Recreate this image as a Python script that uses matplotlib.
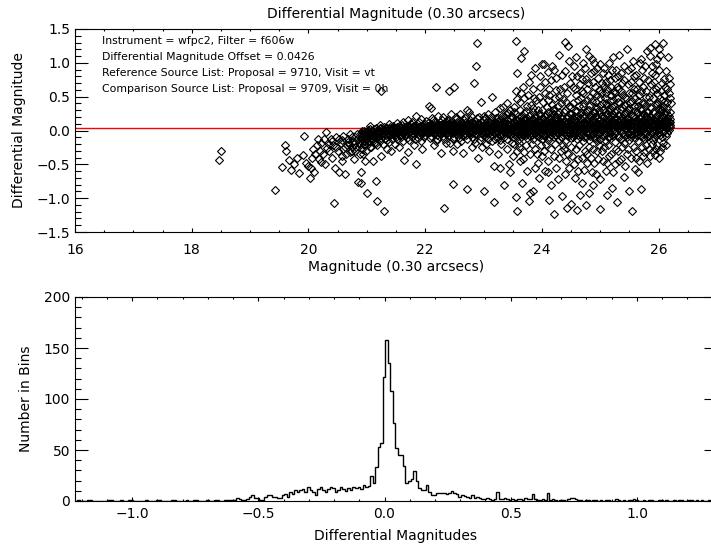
import numpy as np
import matplotlib
matplotlib.use("Agg")
import matplotlib.pyplot as plt
from matplotlib.ticker import MultipleLocator, FuncFormatter

# ---------------- data ----------------
offset_value = 0.0426
info_lines = [
    "Instrument = wfpc2, Filter = f606w",
    "Differential Magnitude Offset = 0.0426",
    "Reference Source List: Proposal = 9710, Visit = vt",
    "Comparison Source List: Proposal = 9709, Visit = 0h",
]

# bright, sparse group (magnitude, differential magnitude)
left_points = [
    (18.50, -0.30), (18.47, -0.44), (19.42, -0.88), (20.44, -1.07),
    (19.60, -0.22), (19.62, -0.30), (19.66, -0.44), (19.55, -0.54), (19.70, -0.58),
    (19.75, -0.50), (19.80, -0.40), (19.84, -0.63), (19.90, -0.36), (19.93, -0.08),
    (19.95, -0.48), (20.00, -0.52), (20.02, -0.70), (20.05, -0.55), (20.08, -0.28),
    (20.10, -0.62), (20.12, -0.35), (20.15, -0.22), (20.18, -0.42), (20.20, -0.30),
    (20.22, -0.18), (20.25, -0.35), (20.28, -0.50), (20.30, -0.02), (20.32, -0.26),
    (20.35, -0.30), (20.38, -0.12), (20.40, -0.40), (20.42, -0.22), (20.45, -0.55),
    (20.47, -0.10), (20.50, -0.30), (20.52, -0.62), (20.55, -0.18), (20.57, -0.45),
    (20.60, -0.08), (20.62, -0.65), (20.63, -0.25), (20.65, -0.35), (20.67, -0.12),
    (20.70, -0.20), (20.72, -0.05), (20.74, -0.30), (20.76, -0.15), (20.78, -0.42),
    (20.80, -0.10), (20.82, -0.25), (20.85, -0.76), (20.86, -0.18), (20.88, -0.35),
    (20.92, -0.08), (20.95, -0.22), (20.97, -0.45), (20.98, -0.12),
    (20.58, -0.14), (20.68, -0.17), (20.78, -0.20), (20.84, -0.13), (20.74, -0.09),
    (20.35, -0.20), (20.40, -0.15), (20.48, -0.25), (20.53, -0.12), (20.60, -0.28),
    (20.66, -0.22), (20.71, -0.32), (20.75, -0.24), (20.80, -0.30), (20.83, -0.05),
    (20.88, -0.22), (20.91, -0.28), (20.94, -0.35), (20.96, -0.15), (20.99, -0.30),
    (20.26, -0.12), (20.16, -0.12), (20.06, -0.40), (20.22, -0.46), (20.58, -0.38),
    (21.24, 0.59),
]

# dense band along the offset line: magnitude column -> differential magnitudes
band_a = [
    (20.90, [-0.03, -0.10, -0.16]), (20.95, [0.00, -0.07, -0.20]),
    (21.00, [-0.02, -0.12, -0.05]), (21.05, [0.02, -0.08, -0.15, -0.25]),
    (21.10, [-0.01, -0.06, -0.13]), (21.15, [0.03, -0.04, -0.18]),
    (21.20, [0.00, -0.09, -0.03]), (21.25, [0.04, -0.02, -0.11]),
    (21.30, [0.01, -0.05, 0.05]), (21.35, [0.03, -0.03, -0.14]),
    (21.40, [0.05, 0.00, -0.07]), (21.45, [0.02, -0.04, 0.06]),
    (21.50, [0.04, -0.01, -0.09]), (21.55, [0.06, 0.01, -0.05]),
    (21.60, [0.03, -0.02, 0.08]), (21.65, [0.05, 0.00, -0.06]),
    (21.70, [0.02, 0.07, -0.03]), (21.75, [0.04, -0.01, 0.09]),
    (21.80, [0.06, 0.01, -0.05]), (21.85, [0.03, -0.02, 0.08]),
    (21.90, [0.05, 0.00, -0.07]), (21.95, [0.02, 0.07, -0.03]),
    (20.925, [-0.05, -0.13, -0.01]), (20.975, [-0.08, -0.02, -0.15]),
    (21.025, [-0.04, -0.10, 0.01]), (21.075, [-0.06, -0.01, -0.11]),
    (21.125, [-0.03, -0.08, 0.02]), (21.175, [-0.05, 0.00, -0.10]),
    (21.225, [-0.02, -0.07, 0.03]), (21.275, [-0.04, 0.01, -0.08]),
    (21.325, [-0.01, -0.06, 0.03]), (21.375, [-0.03, 0.02, -0.07]),
    (21.425, [0.00, -0.05, 0.04]), (21.475, [-0.02, 0.03, -0.06]),
    (21.525, [0.01, -0.04, 0.05]), (21.575, [-0.01, 0.03, -0.06]),
    (21.625, [0.02, -0.03, 0.05]), (21.675, [0.00, 0.04, -0.05]),
    (21.725, [0.03, -0.02, 0.06]), (21.775, [0.01, 0.05, -0.04]),
    (21.825, [0.03, -0.01, 0.06]), (21.875, [0.02, 0.05, -0.03]),
    (21.925, [0.04, 0.00, 0.07]), (21.975, [0.02, 0.05, -0.02]),
    (21.02, [-0.20]), (21.08, [-0.24]), (21.12, [-0.18]), (21.18, [-0.22]), (21.22, [-0.15]),
    (21.28, [-0.20]), (21.32, [-0.12]), (21.38, [-0.17]), (21.44, [-0.12]), (21.48, [-0.20]),
    (21.52, [-0.13]), (21.58, [-0.10]), (21.62, [-0.16]), (21.68, [-0.11]), (21.72, [-0.14]),
    (21.78, [-0.10]), (21.82, [-0.13]), (21.88, [-0.11]), (21.92, [-0.15]), (21.98, [-0.10]),
    (21.05, [0.06]), (21.22, [0.08]), (21.38, [0.09]), (21.52, [0.11]), (21.62, [0.12]),
    (21.78, [0.13]), (21.90, [0.12]),
]
band_b = [
    (22.00, [0.04, -0.01, 0.09, -0.06]), (22.05, [0.02, 0.07, -0.04, 0.11]),
    (22.10, [0.05, 0.00, -0.08, 0.10]), (22.15, [0.03, 0.08, -0.03, 0.12]),
    (22.20, [0.06, 0.01, -0.06, 0.10]), (22.25, [0.02, 0.08, -0.04, 0.13]),
    (22.30, [0.05, -0.01, 0.10, -0.08]), (22.35, [0.03, 0.09, -0.05, 0.12]),
    (22.40, [0.06, 0.00, -0.07, 0.11]), (22.45, [0.01, 0.07, -0.04, 0.13]),
    (22.50, [0.04, -0.02, 0.10, -0.09]), (22.55, [0.07, 0.02, -0.05, 0.12]),
    (22.60, [0.03, 0.09, -0.03, 0.14]), (22.65, [0.05, -0.01, 0.11, -0.08]),
    (22.70, [0.02, 0.08, -0.06, 0.13]), (22.75, [0.06, 0.00, 0.10, -0.04]),
    (22.80, [0.04, -0.03, 0.12, -0.09]), (22.85, [0.07, 0.01, -0.05, 0.14]),
    (22.90, [0.03, 0.09, -0.02, 0.11]), (22.95, [0.05, -0.04, 0.13, -0.10]),
    (23.00, [0.02, 0.08, -0.06, 0.15]), (23.05, [0.06, 0.00, 0.11, -0.08]),
    (23.10, [0.04, -0.03, 0.13, 0.08]), (23.15, [0.07, 0.01, -0.07, 0.16]),
    (23.20, [0.03, 0.10, -0.04, 0.12]), (23.25, [0.05, -0.02, 0.14, -0.10]),
    (23.30, [0.02, 0.09, -0.06, 0.17]), (23.35, [0.06, 0.00, 0.12, -0.09]),
    (23.40, [0.04, -0.04, 0.15, 0.09]), (23.45, [0.08, 0.01, -0.07, 0.18]),
    (22.025, [0.03, 0.00, 0.06, -0.03]), (22.075, [0.05, 0.01, 0.08, -0.02]),
    (22.125, [0.02, 0.06, -0.01, 0.04]), (22.175, [0.04, 0.00, 0.07, -0.04]),
    (22.225, [0.03, 0.06, -0.02, 0.01]), (22.275, [0.05, 0.01, 0.08, -0.03]),
    (22.325, [0.02, 0.05, -0.01, 0.07]), (22.375, [0.04, 0.00, 0.06, -0.04]),
    (22.425, [0.03, 0.07, -0.02, 0.01]), (22.475, [0.05, 0.02, 0.08, -0.03]),
    (22.525, [0.02, 0.06, -0.01, 0.04]), (22.575, [0.04, 0.00, 0.07, -0.05]),
    (22.625, [0.03, 0.06, -0.02, 0.09]), (22.675, [0.05, 0.01, 0.08, -0.04]),
    (22.725, [0.02, 0.05, -0.01, 0.07]), (22.775, [0.04, 0.00, 0.06, -0.03]),
    (22.825, [0.03, 0.07, -0.02, 0.10]), (22.875, [0.05, 0.02, 0.08, -0.05]),
    (22.925, [0.02, 0.06, -0.01, 0.04]), (22.975, [0.04, 0.00, 0.07, -0.04]),
    (23.025, [0.03, 0.06, -0.02, 0.10]), (23.075, [0.05, 0.01, 0.08, -0.05]),
    (23.125, [0.02, 0.05, -0.01, 0.11]), (23.175, [0.04, 0.00, 0.07, -0.03]),
    (23.225, [0.03, 0.07, -0.02, 0.09]), (23.275, [0.05, 0.02, 0.08, -0.06]),
    (23.325, [0.02, 0.06, -0.01, 0.12]), (23.375, [0.04, 0.00, 0.07, -0.04]),
    (23.425, [0.03, 0.06, -0.03, 0.10]), (23.475, [0.05, 0.01, 0.09, -0.05]),
    (22.02, [0.14]), (22.08, [-0.11]), (22.14, [0.15]), (22.20, [-0.12]), (22.28, [0.16]),
    (22.33, [-0.13]), (22.40, [0.15]), (22.47, [-0.12]), (22.53, [0.17]), (22.58, [-0.11]),
    (22.66, [0.16]), (22.71, [-0.13]), (22.77, [0.15]), (22.83, [-0.12]), (22.88, [0.18]),
    (22.94, [-0.14]), (23.02, [0.18]), (23.07, [-0.12]), (23.13, [0.20]), (23.19, [-0.13]),
    (23.24, [0.19]), (23.29, [-0.14]), (23.36, [0.20]), (23.41, [-0.12]), (23.47, [0.22]),
]
band_c = [
    (23.50, [0.04, -0.03, 0.12, -0.10, 0.20, 0.07]), (23.55, [0.06, 0.00, 0.15, -0.08, 0.24, 0.02]),
    (23.60, [0.03, 0.10, -0.05, 0.18, -0.12, 0.07]), (23.65, [0.05, -0.02, 0.13, 0.22, -0.09, 0.09]),
    (23.70, [0.08, 0.01, -0.06, 0.16, 0.26, 0.04]), (23.75, [0.02, 0.11, -0.11, 0.19, 0.06, -0.03]),
    (23.80, [0.05, -0.04, 0.14, 0.23, -0.08, 0.09]), (23.85, [0.07, 0.00, 0.17, -0.13, 0.28, 0.03]),
    (23.90, [0.04, 0.12, -0.07, 0.20, -0.02, 0.08]), (23.95, [0.06, -0.05, 0.15, 0.25, -0.10, 0.01]),
    (24.00, [0.03, 0.09, -0.03, 0.18, 0.30, -0.12]), (24.05, [0.07, 0.01, 0.13, -0.08, 0.22, 0.05]),
    (24.10, [0.05, -0.04, 0.16, 0.27, -0.14, 0.10]), (24.15, [0.08, 0.02, -0.06, 0.20, 0.12, -0.01]),
    (24.20, [0.04, 0.11, -0.10, 0.24, 0.06, 0.32]), (24.25, [0.06, -0.02, 0.15, -0.07, 0.19, 0.09]),
    (24.30, [0.03, 0.13, -0.12, 0.28, 0.07, -0.04]), (24.35, [0.09, 0.00, 0.17, -0.09, 0.23, 0.05]),
    (24.40, [0.05, -0.05, 0.14, 0.31, -0.15, 0.10]), (24.45, [0.07, 0.02, 0.20, -0.08, 0.12, -0.02]),
    (24.50, [0.04, 0.11, -0.11, 0.25, 0.08, 0.34]), (24.55, [0.08, -0.03, 0.16, -0.06, 0.21, 0.01]),
    (24.60, [0.05, 0.13, -0.13, 0.29, 0.09, -0.01]), (24.65, [0.06, 0.00, 0.18, -0.09, 0.24, 0.11]),
    (24.70, [0.03, 0.10, -0.05, 0.22, 0.36, -0.16]), (24.75, [0.09, 0.02, 0.15, -0.10, 0.27, 0.06]),
    (24.80, [0.05, -0.04, 0.19, 0.12, -0.14, 0.31]), (24.85, [0.07, 0.01, 0.14, -0.07, 0.23, 0.09]),
    (24.90, [0.04, 0.12, -0.11, 0.28, 0.06, -0.02]), (24.95, [0.08, -0.05, 0.17, 0.33, -0.16, 0.10]),
    (23.525, [0.04, 0.00, 0.08, -0.05, 0.13]), (23.575, [0.02, 0.06, -0.02, 0.10, 0.16]),
    (23.625, [0.05, 0.01, 0.09, -0.06, 0.14]), (23.675, [0.03, 0.07, -0.03, 0.11, 0.19]),
    (23.725, [0.06, 0.00, 0.10, -0.07, 0.15]), (23.775, [0.03, 0.08, -0.02, 0.12, 0.21]),
    (23.825, [0.05, 0.01, 0.09, -0.06, 0.17]), (23.875, [0.02, 0.06, -0.04, 0.13, 0.22]),
    (23.925, [0.06, 0.00, 0.10, -0.08, 0.16]), (23.975, [0.03, 0.07, -0.02, 0.12, 0.24]),
    (24.025, [0.05, 0.01, 0.09, -0.06, 0.18]), (24.075, [0.02, 0.08, -0.04, 0.14, 0.23]),
    (24.125, [0.06, 0.00, 0.11, -0.09, 0.17]), (24.175, [0.04, 0.07, -0.02, 0.13, 0.26]),
    (24.225, [0.05, 0.01, 0.09, -0.07, 0.20]), (24.275, [0.03, 0.08, -0.04, 0.15, 0.24]),
    (24.325, [0.06, 0.00, 0.11, -0.10, 0.18]), (24.375, [0.04, 0.07, -0.03, 0.14, 0.27]),
    (24.425, [0.05, 0.01, 0.10, -0.07, 0.21]), (24.475, [0.03, 0.08, -0.05, 0.16, 0.25]),
    (24.525, [0.06, 0.00, 0.12, -0.09, 0.19]), (24.575, [0.04, 0.07, -0.03, 0.14, 0.29]),
    (24.625, [0.05, 0.02, 0.10, -0.07, 0.22]), (24.675, [0.03, 0.08, -0.05, 0.17, 0.26]),
    (24.725, [0.07, 0.00, 0.12, -0.10, 0.20]), (24.775, [0.04, 0.09, -0.03, 0.15, 0.30]),
    (24.825, [0.06, 0.02, 0.11, -0.08, 0.23]), (24.875, [0.03, 0.08, -0.05, 0.17, 0.27]),
    (24.925, [0.07, 0.00, 0.12, -0.11, 0.21]), (24.975, [0.04, 0.09, -0.03, 0.15, 0.31]),
]
band_d = [
    (25.00, [0.06, -0.03, 0.15, 0.26, -0.12, 0.38]), (25.05, [0.09, 0.02, 0.20, -0.08, 0.31, 0.12]),
    (25.10, [0.05, 0.13, -0.05, 0.24, -0.15, 0.40]), (25.15, [0.08, -0.01, 0.17, 0.29, -0.10, 0.04]),
    (25.20, [0.11, 0.03, 0.22, -0.06, 0.35, 0.14]), (25.25, [0.07, -0.04, 0.18, 0.27, -0.17, 0.10]),
    (25.30, [0.04, 0.12, -0.08, 0.23, 0.42, 0.02]), (25.35, [0.09, 0.00, 0.16, -0.12, 0.30, 0.06]),
    (25.40, [0.06, 0.14, -0.05, 0.25, 0.37, -0.18]), (25.45, [0.10, 0.02, 0.19, -0.09, 0.28, 0.13]),
    (25.50, [0.05, -0.03, 0.15, 0.33, -0.14, 0.08]), (25.55, [0.08, 0.11, -0.07, 0.22, 0.44, 0.01]),
    (25.60, [0.12, 0.04, 0.18, -0.11, 0.29, -0.02]), (25.65, [0.07, -0.05, 0.14, 0.26, -0.16, 0.36]),
    (25.70, [0.10, 0.02, 0.21, -0.08, 0.31, 0.13]), (25.75, [0.06, 0.15, -0.03, 0.24, 0.40, -0.13]),
    (25.80, [0.09, 0.01, 0.18, -0.10, 0.28, 0.05]), (25.85, [0.13, 0.04, 0.22, -0.06, 0.34, 0.16]),
    (25.90, [0.07, -0.02, 0.17, 0.27, -0.14, 0.10]), (25.95, [0.11, 0.03, 0.20, -0.08, 0.38, 0.14]),
    (26.00, [0.08, 0.16, -0.04, 0.25, 0.33, 0.02]), (26.05, [0.12, 0.05, 0.21, -0.10, 0.30, 0.18]),
    (26.10, [0.09, 0.14, 0.00, 0.26, 0.42, 0.06]), (26.15, [0.11, 0.04, 0.19, 0.32, -0.03, 0.15]),
    (26.20, [0.08, 0.17, 0.05, 0.28, 0.12]),
    (25.025, [0.07, 0.01, 0.12, -0.07, 0.22]), (25.075, [0.04, 0.10, -0.03, 0.17, 0.28]),
    (25.125, [0.08, 0.02, 0.13, -0.09, 0.24]), (25.175, [0.05, 0.11, -0.04, 0.18, 0.33]),
    (25.225, [0.09, 0.01, 0.14, -0.08, 0.25]), (25.275, [0.05, 0.11, -0.02, 0.19, 0.30]),
    (25.325, [0.08, 0.03, 0.13, -0.10, 0.23]), (25.375, [0.06, 0.12, -0.04, 0.20, 0.35]),
    (25.425, [0.09, 0.02, 0.15, -0.07, 0.26]), (25.475, [0.05, 0.11, -0.03, 0.19, 0.31]),
    (25.525, [0.08, 0.01, 0.14, -0.09, 0.24]), (25.575, [0.06, 0.12, -0.05, 0.21, 0.36]),
    (25.625, [0.10, 0.03, 0.16, -0.07, 0.27]), (25.675, [0.05, 0.11, -0.02, 0.19, 0.32]),
    (25.725, [0.08, 0.02, 0.15, -0.10, 0.25]), (25.775, [0.06, 0.13, -0.04, 0.22, 0.37]),
    (25.825, [0.10, 0.03, 0.16, -0.08, 0.28]), (25.875, [0.06, 0.12, -0.03, 0.20, 0.33]),
    (25.925, [0.09, 0.02, 0.15, -0.09, 0.26]), (25.975, [0.07, 0.13, -0.05, 0.23, 0.39]),
    (26.025, [0.10, 0.04, 0.17, -0.06, 0.29]), (26.075, [0.06, 0.12, -0.02, 0.21, 0.34]),
    (26.125, [0.09, 0.03, 0.16, -0.08, 0.27]), (26.175, [0.07, 0.13, 0.01, 0.22]),
]

# outliers above the band
upper_points = [
    (21.70, 0.16), (21.92, 0.17), (22.07, 0.36), (22.10, 0.33), (22.18, 0.65), (22.41, 0.59),
    (22.50, 0.65), (21.85, 0.22), (22.30, 0.20), (22.45, 0.24),
    (22.75, 0.28), (22.72, 0.30), (22.84, 0.70), (22.87, 0.95), (22.89, 1.29), (23.14, 0.50),
    (23.28, 0.33), (23.33, 0.35), (23.00, 0.22), (23.20, 0.28), (23.40, 0.40), (23.45, 0.30),
    (22.95, 0.42), (23.38, 0.25), (22.60, 0.25),
    (22.12, 0.18), (22.22, 0.22), (22.38, 0.16), (22.52, 0.20), (22.68, 0.18), (22.78, 0.22),
    (22.92, 0.20), (23.08, 0.24), (23.22, 0.18), (23.32, 0.22), (23.42, 0.26),
    (23.55, 1.32), (23.69, 1.17), (23.64, 1.07), (23.58, 0.85), (23.55, 0.59), (23.65, 0.55),
    (23.78, 0.72), (23.97, 0.80), (24.00, 0.99), (23.85, 0.62), (23.90, 0.45), (23.62, 0.42),
    (23.75, 0.36), (23.95, 0.50), (23.70, 0.48), (23.82, 0.38), (23.52, 0.35), (23.88, 0.92),
    (24.03, 0.99), (24.10, 0.86), (24.15, 0.75), (24.20, 0.90), (24.29, 1.12), (24.35, 0.82),
    (24.40, 1.31), (24.45, 1.25), (24.46, 1.02), (24.25, 0.60), (24.30, 0.50), (24.10, 0.45),
    (24.38, 0.65), (24.42, 0.42), (24.05, 0.55), (24.18, 0.38), (24.48, 0.70), (24.33, 0.40),
    (24.22, 0.48), (24.12, 0.62),
    (24.55, 0.95), (24.60, 0.80), (24.65, 0.68), (24.70, 1.00), (24.75, 1.21), (24.80, 1.10),
    (24.85, 1.05), (24.90, 0.88), (24.95, 0.92), (24.58, 0.52), (24.62, 0.45), (24.68, 0.58),
    (24.72, 0.40), (24.78, 0.62), (24.82, 0.50), (24.88, 0.72), (24.92, 0.42), (24.97, 0.60),
    (24.53, 0.65), (24.66, 0.85), (24.76, 0.76), (24.86, 0.44), (24.94, 0.52),
    (25.00, 0.98), (25.05, 0.85), (25.10, 0.72), (25.15, 1.00), (25.20, 0.90), (25.25, 0.78),
    (25.32, 1.12), (25.40, 0.95), (25.46, 1.20), (25.02, 0.55), (25.08, 0.48), (25.12, 0.62),
    (25.18, 0.52), (25.22, 0.45), (25.28, 0.65), (25.35, 0.58), (25.42, 0.50), (25.48, 0.68),
    (25.30, 0.80), (25.38, 0.70), (25.06, 0.66), (25.16, 0.74), (25.26, 0.56), (25.44, 0.48),
    (25.52, 0.92), (25.58, 0.80), (25.63, 0.62), (25.68, 1.00), (25.70, 1.05), (25.72, 0.90),
    (25.75, 0.78), (25.80, 1.18), (25.85, 1.22), (25.88, 0.85), (25.92, 0.72), (25.95, 0.98),
    (26.00, 1.20), (26.03, 1.12), (26.08, 1.30), (26.12, 0.88), (26.15, 0.62), (26.18, 0.78),
    (25.55, 0.55), (25.60, 0.48), (25.66, 0.52), (25.78, 0.58), (25.83, 0.50), (25.90, 0.60),
    (25.97, 0.55), (26.05, 0.70), (26.10, 0.52), (26.20, 0.48), (25.86, 1.10), (25.93, 1.28),
    (25.98, 1.05), (26.16, 1.08),
    (23.53, 0.28), (23.58, 0.46), (23.63, 0.31), (23.68, 0.65), (23.72, 0.29), (23.77, 0.52),
    (23.81, 0.82), (23.84, 0.33), (23.87, 0.48), (23.93, 0.30), (23.96, 0.64), (24.02, 0.42),
    (24.06, 0.72), (24.08, 0.34), (24.13, 0.53), (24.17, 0.95), (24.19, 0.30), (24.24, 0.77),
    (24.27, 0.36), (24.31, 0.62), (24.36, 0.46), (24.39, 0.88), (24.43, 0.55), (24.47, 0.36),
    (24.51, 0.80), (24.54, 0.40), (24.57, 0.62), (24.59, 1.08), (24.63, 0.36), (24.67, 0.48),
    (24.69, 0.76), (24.71, 0.55), (24.74, 0.92), (24.77, 0.45), (24.79, 0.70), (24.83, 0.38),
    (24.84, 0.85), (24.87, 0.56), (24.89, 1.00), (24.91, 0.65), (24.93, 0.35), (24.96, 0.78),
    (24.99, 0.48), (25.03, 0.70), (25.04, 0.40), (25.07, 0.92), (25.09, 0.55), (25.11, 0.38),
    (25.13, 0.82), (25.17, 0.44), (25.19, 0.65), (25.21, 1.08), (25.23, 0.58), (25.24, 0.36),
    (25.27, 0.90), (25.29, 0.48), (25.31, 0.62), (25.33, 0.40), (25.36, 0.85), (25.39, 0.52),
    (25.41, 0.74), (25.43, 0.38), (25.47, 0.90), (25.49, 0.55), (25.51, 0.40), (25.53, 0.72),
    (25.56, 1.02), (25.57, 0.62), (25.61, 0.82), (25.64, 0.44), (25.67, 0.72), (25.69, 0.58),
    (25.71, 0.40), (25.74, 0.65), (25.76, 0.96), (25.79, 0.50), (25.81, 0.75), (25.84, 0.42),
    (25.87, 0.68), (25.89, 0.95), (25.91, 0.48), (25.94, 0.82), (25.96, 0.62), (25.99, 0.42),
    (26.01, 0.90), (26.04, 0.58), (26.06, 0.45), (26.09, 0.76), (26.11, 0.64), (26.14, 0.42),
    (26.17, 0.56), (26.19, 0.68), (26.21, 0.40),
]

# outliers below the band
lower_points = [
    (20.90, -0.62), (20.90, -0.77), (21.01, -0.92), (21.15, -0.75), (21.18, -1.04), (21.30, -1.19),
    (21.24, -0.38), (21.41, -0.30), (21.64, -0.43), (21.84, -0.50), (21.80, -0.22), (21.10, -0.45),
    (21.35, -0.28), (21.55, -0.25), (21.70, -0.32), (21.95, -0.27),
    (22.32, -1.14), (22.47, -0.79), (22.72, -0.87), (22.27, -0.33), (22.47, -0.30), (22.64, -0.33),
    (22.90, -0.40), (22.15, -0.22), (22.55, -0.20), (22.80, -0.25), (22.35, -0.18), (22.98, -0.25),
    (22.18, -0.15), (22.42, -0.18), (22.62, -0.15), (22.85, -0.18), (23.05, -0.20), (23.15, -0.15),
    (23.30, -0.20), (23.48, -0.18),
    (23.01, -0.89), (23.18, -1.06), (23.29, -0.55), (23.43, -0.50), (23.35, -0.80), (23.55, -0.99),
    (23.58, -1.19), (23.66, -0.77), (23.78, -1.04), (23.80, -0.92), (23.85, -0.90), (23.89, -0.55),
    (23.18, -0.52), (23.63, -0.45), (23.10, -0.30), (23.25, -0.35), (23.40, -0.28), (23.50, -0.38),
    (23.70, -0.32), (23.75, -0.60), (23.92, -0.35), (23.60, -0.25), (23.95, -0.70), (23.45, -0.62),
    (24.20, -1.23), (24.35, -0.97), (24.43, -1.15), (24.57, -0.70), (24.68, -0.77), (24.80, -0.93),
    (24.50, -1.08), (24.05, -0.60), (24.10, -0.45), (24.15, -0.80), (24.25, -0.55), (24.30, -0.40),
    (24.40, -0.65), (24.45, -0.35), (24.55, -0.50), (24.62, -0.42), (24.72, -0.58), (24.78, -0.35),
    (24.85, -0.62), (24.90, -0.48), (24.95, -0.30), (24.00, -0.38), (24.65, -0.95), (24.88, -0.80),
    (24.38, -0.28), (24.12, -1.02), (24.75, -1.10), (24.60, -1.18),
    (25.00, -0.72), (25.00, -1.16), (25.29, -1.06), (25.54, -1.19), (25.59, -0.57), (25.69, -0.87),
    (25.05, -0.45), (25.10, -0.60), (25.15, -0.38), (25.20, -0.85), (25.25, -0.50), (25.35, -0.42),
    (25.40, -0.68), (25.45, -0.35), (25.50, -0.90), (25.62, -0.40), (25.75, -0.32), (25.80, -0.48),
    (25.85, -0.38), (25.90, -0.30), (25.95, -0.28), (26.00, -0.40), (26.05, -0.25), (25.30, -0.30),
    (25.12, -0.95), (25.65, -0.62), (25.72, -0.25),
    (23.52, -0.20), (23.57, -0.30), (23.61, -0.18), (23.67, -0.42), (23.73, -0.22), (23.79, -0.35),
    (23.83, -0.20), (23.88, -0.28), (23.94, -0.48), (23.98, -0.22), (24.03, -0.30), (24.07, -0.20),
    (24.11, -0.62), (24.16, -0.28), (24.21, -0.38), (24.23, -0.20), (24.28, -0.72), (24.33, -0.30),
    (24.36, -0.22), (24.41, -0.45), (24.46, -0.55), (24.49, -0.25), (24.52, -0.38), (24.58, -0.28),
    (24.61, -0.60), (24.64, -0.22), (24.69, -0.40), (24.73, -0.30), (24.77, -0.48), (24.81, -0.24),
    (24.84, -0.40), (24.87, -0.28), (24.92, -0.65), (24.96, -0.42), (24.98, -0.22), (25.03, -0.30),
    (25.07, -0.25), (25.11, -0.48), (25.14, -0.22), (25.18, -0.35), (25.22, -0.62), (25.27, -0.28),
    (25.32, -0.45), (25.37, -0.24), (25.42, -0.52), (25.47, -0.28), (25.52, -0.40), (25.57, -0.25),
    (25.61, -0.30), (25.67, -0.45), (25.73, -0.38), (25.78, -0.22), (25.83, -0.28), (25.88, -0.20),
    (25.93, -0.36), (25.98, -0.22), (26.02, -0.30), (26.08, -0.18), (26.13, -0.22),
]

# histogram of differential magnitudes
hist_first_edge = -1.227
hist_bin_width = 0.01
hist_counts = [
    0, 1, 0, 0, 0, 1, 1, 0, 0, 0,
    0, 0, 0, 1, 1, 0, 0, 0, 1, 0,
    0, 1, 1, 0, 0, 0, 0, 0, 1, 0,
    0, 0, 1, 1, 0, 0, 0, 0, 1, 1,
    0, 0, 0, 0, 1, 0, 0, 1, 1, 0,
    0, 0, 1, 0, 0, 1, 1, 0, 0, 1,
    1, 1, 1, 1, 3, 2, 1, 1, 2, 4,
    6, 3, 3, 1, 1, 4, 6, 6, 4, 4,
    3, 3, 6, 7, 4, 9, 7, 11, 9, 11,
    12, 9, 14, 11, 9, 6, 12, 14, 11, 9,
    12, 14, 13, 9, 11, 14, 12, 10, 13, 11,
    14, 13, 14, 12, 16, 14, 15, 25, 18, 33,
    53, 57, 122, 158, 135, 108, 76, 52, 45, 45,
    34, 18, 20, 22, 29, 20, 13, 11, 11, 16,
    9, 6, 6, 8, 8, 8, 8, 7, 8, 10,
    8, 7, 4, 6, 5, 4, 3, 6, 3, 4,
    3, 2, 2, 3, 2, 1, 2, 9, 2, 2,
    3, 2, 1, 2, 1, 2, 2, 1, 3, 2,
    2, 7, 2, 1, 1, 2, 1, 8, 1, 2,
    1, 0, 1, 1, 0, 2, 3, 3, 2, 1,
    1, 0, 1, 1, 0, 1, 1, 0, 1, 0,
    1, 1, 0, 0, 2, 1, 0, 1, 0, 1,
    1, 2, 1, 0, 0, 1, 0, 1, 1, 0,
    0, 1, 1, 0, 1, 0, 0, 1, 0, 1,
    1, 0, 0, 1, 1, 0, 1, 0, 1, 0,
    0, 1, 0, 1,
]

# ---------------- assemble scatter ----------------
mags, diffs = [], []
for m, d in left_points:
    mags.append(m); diffs.append(d)
for band in (band_a, band_b, band_c, band_d):
    for m, ds in band:
        for d in ds:
            mags.append(m); diffs.append(d)
for m, d in upper_points + lower_points:
    mags.append(m); diffs.append(d)

# ---------------- figure ----------------
plt.rcParams['font.family'] = ['DejaVu Sans']
W, H = 711, 546
fig = plt.figure(figsize=(W / 100, H / 100), dpi=100)


def rect(l, r, t, b):
    return [l / W, 1 - b / H, (r - l) / W, (b - t) / H]


def fmt1(v, p):
    s = f"{v:.1f}"
    if s == "-0.0":
        s = "0.0"
    return s.replace("-", "\u2212")


def fmt0(v, p):
    return f"{v:.0f}"


ax1 = fig.add_axes(rect(75, 717, 29, 232))
ax1.axhline(offset_value, color='red', lw=1.0, zorder=1)
ax1.plot(mags, diffs, linestyle='none', marker='D', ms=4.0, mfc='none',
         mec='black', mew=0.8, zorder=2)
ax1.set_xlim(16, 27)
ax1.set_ylim(-1.5, 1.5)
ax1.xaxis.set_major_locator(MultipleLocator(2))
ax1.xaxis.set_minor_locator(MultipleLocator(0.5))
ax1.yaxis.set_major_locator(MultipleLocator(0.5))
ax1.yaxis.set_minor_locator(MultipleLocator(0.1))
ax1.xaxis.set_major_formatter(FuncFormatter(fmt0))
ax1.yaxis.set_major_formatter(FuncFormatter(fmt1))

ax2 = fig.add_axes(rect(75, 717, 297, 501))
edges = [hist_first_edge + hist_bin_width * i for i in range(len(hist_counts) + 1)]
ax2.stairs(hist_counts, edges, color='black', lw=1.0)
ax2.set_xlim(-1.226, 1.317)
ax2.set_ylim(0, 200)
ax2.xaxis.set_major_locator(MultipleLocator(0.5))
ax2.xaxis.set_minor_locator(MultipleLocator(0.1))
ax2.yaxis.set_major_locator(MultipleLocator(50))
ax2.yaxis.set_minor_locator(MultipleLocator(10))
ax2.xaxis.set_major_formatter(FuncFormatter(fmt1))
ax2.yaxis.set_major_formatter(FuncFormatter(fmt0))

for ax, xpad in ((ax1, 8.0), (ax2, 4.5)):
    ax.tick_params(which='both', direction='in', top=True, right=True,
                   labelsize=10, width=0.8)
    ax.tick_params(axis='y', which='major', length=9.2, pad=3.5)
    ax.tick_params(axis='y', which='minor', length=4.6)
    ax.tick_params(axis='x', which='major', length=3.0, pad=xpad)
    ax.tick_params(axis='x', which='minor', length=1.6)
    for sp in ax.spines.values():
        sp.set_linewidth(0.8)

# titles and labels
fig.text(396 / W, 1 - 14 / H, "Differential Magnitude (0.30 arcsecs)",
         ha='center', va='center', fontsize=10)
fig.text(396 / W, 1 - 267 / H, "Magnitude (0.30 arcsecs)",
         ha='center', va='center', fontsize=10)
fig.text(19 / W, 1 - 130 / H, "Differential Magnitude", rotation=90,
         ha='center', va='center', fontsize=10)
fig.text(396 / W, 1 - 536 / H, "Differential Magnitudes",
         ha='center', va='center', fontsize=10)
fig.text(26 / W, 1 - 399 / H, "Number in Bins", rotation=90,
         ha='center', va='center', fontsize=10)

for i, line in enumerate(info_lines):
    fig.text(102 / W, 1 - (41 + 16 * i) / H, line, ha='left', va='center',
             fontsize=7.8)

fig.savefig("out.png", dpi=100)
